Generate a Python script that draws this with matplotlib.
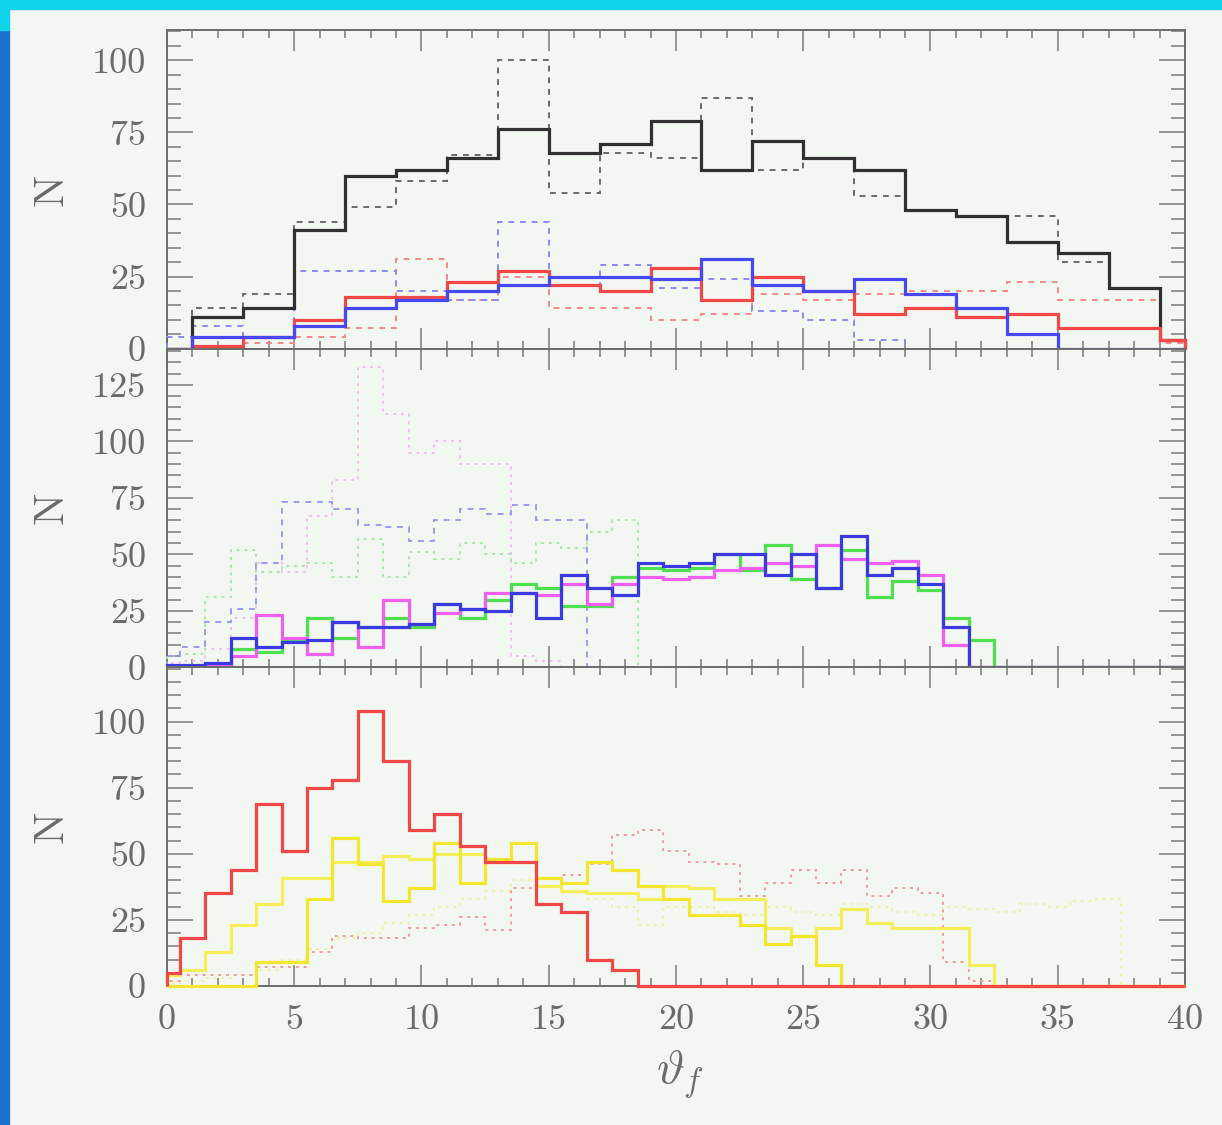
import numpy as np
import matplotlib
matplotlib.use("Agg")
import matplotlib.pyplot as plt
from matplotlib.patches import Rectangle
from matplotlib.ticker import MultipleLocator

# ---------------- data ----------------
# top panel: bins of width 2 centred on even theta values
top_centers = list(range(0, 41, 2))
top_black_solid = [0, 11, 14, 41, 60, 62, 66, 76, 68, 71, 79, 62, 72, 66, 62, 48, 46, 37, 33, 21, 3]
top_black_dash = [0, 14, 19, 44, 49, 58, 67, 100, 54, 68, 66, 87, 62, 66, 53, 48, 46, 46, 30, 21, 3]
top_red_solid = [0, 1, 4, 10, 18, 18, 23, 27, 22, 20, 28, 17, 25, 20, 12, 14, 11, 12, 7, 7, 3]
top_red_dash = [0, 1, 2, 4, 7, 31, 17, 25, 14, 14, 10, 12, 19, 17, 19, 20, 20, 23, 17, 17, 2]
top_blue_solid = [0, 4, 4, 8, 14, 17, 20, 22, 25, 25, 24, 31, 22, 20, 24, 19, 14, 5, 0, 0, 0]
top_blue_dash = [4, 8, 4, 27, 27, 20, 17, 44, 22, 29, 21, 24, 13, 10, 3, 0, 0, 0, 0, 0, 0]

# middle and bottom panels: bins of width 1 centred on integer theta values
fine_centers = list(range(0, 41))
mid_green_solid = [0, 0, 1, 8, 7, 12, 22, 13, 18, 22, 18, 28, 22, 30, 37, 35, 27, 27, 40, 44,
                   43, 44, 50, 43, 54, 39, 35, 52, 31, 38, 34, 22, 12, 0, 0, 0, 0, 0, 0, 0, 0]
mid_blue_solid = [1, 1, 2, 13, 9, 11, 12, 20, 18, 18, 19, 28, 26, 25, 33, 22, 41, 35, 32, 46,
                  45, 46, 50, 50, 41, 50, 35, 58, 41, 44, 37, 18, 0, 0, 0, 0, 0, 0, 0, 0, 0]
mid_magenta_solid = [0, 0, 1, 5, 23, 13, 6, 20, 9, 30, 19, 24, 26, 33, 33, 32, 37, 28, 37, 40,
                     39, 40, 43, 44, 46, 45, 54, 48, 46, 47, 41, 10, 0, 0, 0, 0, 0, 0, 0, 0, 0]
mid_blue_dash = [5, 9, 20, 26, 46, 73, 73, 70, 63, 62, 56, 65, 70, 68, 72, 65, 65, 0, 0, 0,
                 0, 0, 0, 0, 0, 0, 0, 0, 0, 0, 0, 0, 0, 0, 0, 0, 0, 0, 0, 0, 0]
mid_green_dot = [5, 6, 31, 52, 42, 45, 46, 40, 57, 40, 51, 48, 55, 50, 46, 55, 53, 60, 65, 0,
                 0, 0, 0, 0, 0, 0, 0, 0, 0, 0, 0, 0, 0, 0, 0, 0, 0, 0, 0, 0, 0]
mid_magenta_dot = [2, 3, 8, 22, 46, 42, 67, 83, 133, 112, 95, 100, 90, 90, 5, 3, 0, 0, 0, 0,
                   0, 0, 0, 0, 0, 0, 0, 0, 0, 0, 0, 0, 0, 0, 0, 0, 0, 0, 0, 0, 0]

bot_red_solid = [5, 18, 35, 44, 69, 51, 75, 78, 104, 85, 59, 65, 53, 47, 47, 31, 28, 10, 6, 0,
                 0, 0, 0, 0, 0, 0, 0, 0, 0, 0, 0, 0, 0, 0, 0, 0, 0, 0, 0, 0, 0]
bot_red_dot = [2, 4, 4, 4, 7, 7, 13, 19, 18, 18, 22, 23, 26, 21, 37, 41, 42, 46, 57, 59,
               51, 47, 46, 34, 39, 44, 39, 44, 34, 37, 35, 9, 2, 0, 0, 0, 0, 0, 0, 0, 0]
bot_yellow_a = [0, 0, 0, 0, 9, 9, 33, 56, 46, 32, 37, 54, 39, 48, 54, 41, 39, 47, 44, 38,
                33, 27, 27, 23, 16, 19, 8, 0, 0, 0, 0, 0, 0, 0, 0, 0, 0, 0, 0, 0, 0]
bot_yellow_b = [4, 6, 13, 23, 31, 41, 41, 47, 47, 49, 48, 50, 50, 47, 47, 38, 36, 35, 35, 33,
                38, 37, 33, 33, 22, 19, 22, 29, 24, 22, 22, 22, 8, 0, 0, 0, 0, 0, 0, 0, 0]
bot_yellow_dot = [1, 2, 3, 4, 6, 10, 14, 18, 20, 24, 27, 30, 33, 36, 40, 38, 35, 33, 30, 23,
                  30, 30, 28, 27, 30, 28, 27, 31, 30, 28, 27, 30, 29, 28, 31, 30, 32, 33, 0, 0, 0]

x_ticks = [0, 5, 10, 15, 20, 25, 30, 35, 40]
top_yticks = [0, 25, 50, 75, 100]
mid_yticks = [0, 25, 50, 75, 100, 125]
bot_yticks = [0, 25, 50, 75, 100]
x_label = r"$\vartheta_f$"
y_label = "N"


def edges_from_centers(c, lo=0.0, hi=40.0):
    c = np.asarray(c, dtype=float)
    mids = (c[:-1] + c[1:]) / 2.0
    return np.concatenate([[lo], mids, [hi]])


# ---------------- figure ----------------
plt.rcParams["mathtext.fontset"] = "cm"
W, H = 1222, 1125
fig = plt.figure(figsize=(W / 100, H / 100), dpi=100)
bg = "#f3f7f1"
fig.patch.set_facecolor(bg)

# slide decoration: cyan top strip, blue left strip
fig.add_artist(Rectangle((0, 1 - 9 / H), 1, 9 / H, transform=fig.transFigure,
                         color="#10d4ec", zorder=0))
fig.add_artist(Rectangle((0, 0), 9 / W, 1 - 30 / H, transform=fig.transFigure,
                         color="#1f6fcf", zorder=0))
fig.add_artist(Rectangle((0, 1 - 30 / H), 9 / W, 30 / H, transform=fig.transFigure,
                         color="#10d4ec", zorder=0))

left, right = 167 / W, 1185 / W
ytop, ybot = 1 - 30 / H, 1 - 986 / H
ph = (ytop - ybot) / 3
axes = [fig.add_axes([left, ytop - (i + 1) * ph, right - left, ph]) for i in range(3)]

tick_col = "#7a7a7a"
lab_col = "#6a6a6a"

e_top = edges_from_centers(top_centers)
e_fine = edges_from_centers(fine_centers)

LW = 2.3
DLW = 1.4
dot = (0, (1.5, 2.5))
dash = (0, (3, 3))
Z = 3

ax = axes[0]
ax.stairs(top_black_dash, e_top, color="#6a6a6a", lw=DLW, ls=dash, clip_on=False, zorder=Z)
ax.stairs(top_red_dash, e_top, color="#f28a8a", lw=DLW, ls=dash, clip_on=False, zorder=Z)
ax.stairs(top_blue_dash, e_top, color="#8a8af2", lw=DLW, ls=dash, clip_on=False, zorder=Z)
ax.stairs(top_black_solid, e_top, color="#303030", lw=LW, clip_on=False, zorder=Z)
ax.stairs(top_red_solid, e_top, color="#f04848", lw=LW, clip_on=False, zorder=Z)
ax.stairs(top_blue_solid, e_top, color="#4848f0", lw=LW, clip_on=False, zorder=Z)
ax.set_ylim(0, 110.5)
ax.set_yticks(top_yticks)

ax = axes[1]
ax.stairs(mid_magenta_dot, e_fine, color="#f4baf4", lw=DLW, ls=dot, clip_on=False, zorder=Z)
ax.stairs(mid_green_dot, e_fine, color="#a8e8a8", lw=DLW, ls=dot, clip_on=False, zorder=Z)
ax.stairs(mid_blue_dash, e_fine, color="#9a9af2", lw=DLW, ls=dash, clip_on=False, zorder=Z)
ax.stairs(mid_green_solid, e_fine, color="#4ee04e", lw=LW, clip_on=False, zorder=Z)
ax.stairs(mid_magenta_solid, e_fine, color="#f060f0", lw=LW, clip_on=False, zorder=Z)
ax.stairs(mid_blue_solid, e_fine, color="#3a3ae0", lw=LW, clip_on=False, zorder=Z)
ax.set_ylim(0, 141)
ax.set_yticks(mid_yticks)

ax = axes[2]
ax.stairs(bot_yellow_dot, e_fine, color="#f0f0a8", lw=DLW, ls=dot, clip_on=False, zorder=Z)
ax.stairs(bot_red_dot, e_fine, color="#f29a9a", lw=DLW, ls=dot, clip_on=False, zorder=Z)
ax.stairs(bot_yellow_b, e_fine, color="#f4ee5a", lw=LW, clip_on=False, zorder=Z)
ax.stairs(bot_yellow_a, e_fine, color="#f2e62e", lw=LW, clip_on=False, zorder=Z)
ax.stairs(bot_red_solid, e_fine, color="#f04848", lw=LW, clip_on=False, zorder=Z)
ax.set_ylim(0, 120.5)
ax.set_yticks(bot_yticks)

for i, ax in enumerate(axes):
    ax.set_facecolor(bg)
    ax.set_xlim(0, 40)
    ax.set_xticks(x_ticks)
    ax.xaxis.set_minor_locator(MultipleLocator(1))
    ax.yaxis.set_minor_locator(MultipleLocator(5))
    ax.tick_params(which="both", direction="in", top=True, right=True, color=tick_col,
                   width=1.1)
    ax.tick_params(axis="x", which="major", length=15)
    ax.tick_params(axis="x", which="minor", length=6)
    ax.tick_params(axis="y", which="major", length=19)
    ax.tick_params(axis="y", which="minor", length=10)
    ax.tick_params(axis="y", pad=15)
    ax.tick_params(axis="x", pad=13)
    for s in ax.spines.values():
        s.set_color("#6c6c6c")
        s.set_linewidth(1.4)
    for lab in ax.get_yticklabels():
        lab.set_fontfamily("cmr10")
        lab.set_fontsize(26)
        lab.set_color(lab_col)
    if i < 2:
        ax.tick_params(axis="x", labelbottom=False)
    else:
        for lab in ax.get_xticklabels():
            lab.set_fontfamily("cmr10")
            lab.set_fontsize(26)
            lab.set_color(lab_col)
    yc = ax.get_position().y0 + ax.get_position().height / 2
    fig.text(52 / W, yc, y_label, rotation=90, ha="center", va="center",
             fontsize=31, color=lab_col, family="cmr10")

fig.text(680 / W, 1 - 1074 / H, x_label, ha="center", va="center", fontsize=34,
         color=lab_col)

fig.savefig("out.png", dpi=100, facecolor=fig.get_facecolor())
